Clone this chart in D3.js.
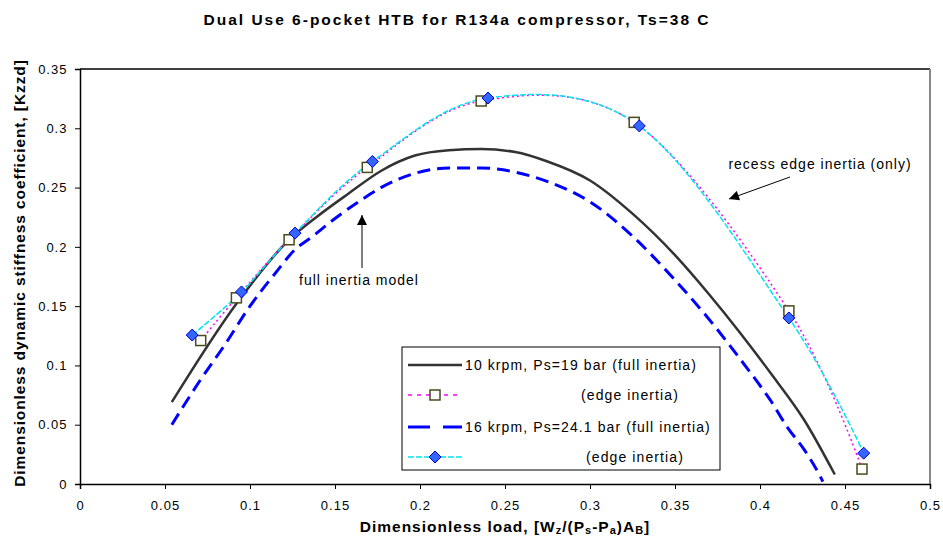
<!DOCTYPE html>
<html><head><meta charset="utf-8">
<script src="https://cdn.jsdelivr.net/npm/d3@7"></script>
<style>
body{margin:0;background:#fff;}
svg{display:block;}
text{font-family:"Liberation Sans",Arial,sans-serif;}
</style></head>
<body>
<svg id="chart" width="943" height="542"></svg>
<script>
// ---- data ----
const xTicks = [0,0.05,0.1,0.15,0.2,0.25,0.3,0.35,0.4,0.45,0.5];
const yTicks = [0,0.05,0.1,0.15,0.2,0.25,0.3,0.35];

// 10 krpm, Ps=19 bar (full inertia)
const full10x = [0.054,0.092,0.123,0.139,0.158,0.177,0.197,0.217,0.236,0.256,0.275,0.3,0.325,0.35,0.37,0.388,0.406,0.426,0.444];
const full10y = [0.069,0.152,0.206,0.225,0.245,0.264,0.277,0.2815,0.2825,0.280,0.272,0.256,0.228,0.193,0.160,0.128,0.094,0.054,0.008];
// 10 krpm edge inertia
const edge10x = [0.071,0.092,0.123,0.169,0.236,0.326,0.417,0.46];
const edge10y = [0.121,0.157,0.206,0.267,0.323,0.305,0.146,0.0126];
// 16 krpm, Ps=24.1 bar (full inertia)
const full16x = [0.054,0.07,0.085,0.1,0.115,0.126,0.137,0.151,0.166,0.177,0.197,0.217,0.236,0.256,0.276,0.3,0.325,0.35,0.37,0.388,0.399,0.406,0.416,0.426,0.435,0.437];
const full16y = [0.050,0.086,0.117,0.150,0.178,0.197,0.209,0.225,0.240,0.250,0.262,0.2665,0.2665,0.263,0.2546,0.238,0.209,0.172,0.139,0.106,0.085,0.071,0.048,0.029,0.0076,0.002];
// 16 krpm edge inertia
const edge16x = [0.066,0.095,0.1265,0.172,0.24,0.329,0.417,0.461];
const edge16y = [0.1256,0.162,0.2116,0.272,0.3255,0.302,0.140,0.026];

const legendLabels = ["10 krpm, Ps=19 bar (full inertia)","(edge inertia)","16 krpm, Ps=24.1 bar (full inertia)","(edge inertia)"];

// ---- chart ----
const svg = d3.select("#chart");
const L=80, R=930, T=69, B=484;
const x = d3.scaleLinear().domain([0,0.5]).range([L,R]);
const y = d3.scaleLinear().domain([0,0.35]).range([B,T]);

// title
svg.append("text").attr("x",457).attr("y",25).attr("text-anchor","middle")
  .attr("font-size",15.5).attr("font-weight","bold").attr("letter-spacing","2")
  .text("Dual Use 6-pocket HTB for R134a compressor, Ts=38 C");

// plot frame (top black, right gray)
svg.append("line").attr("x1",L).attr("x2",R).attr("y1",T).attr("y2",T).attr("stroke","#000").attr("stroke-width",1.5);
svg.append("line").attr("x1",R).attr("x2",R).attr("y1",T).attr("y2",B).attr("stroke","#888").attr("stroke-width",2);

// axes
const fmt = d=>String(+d.toFixed(2));
const xAxis = d3.axisBottom(x).tickValues(xTicks).tickSize(5).tickFormat(fmt);
const yAxis = d3.axisLeft(y).tickValues(yTicks).tickSize(5).tickFormat(fmt);
const gx = svg.append("g").attr("transform",`translate(0,${B})`).call(xAxis);
const gy = svg.append("g").attr("transform",`translate(${L},0)`).call(yAxis);
[gx,gy].forEach(g=>{
  g.select(".domain").attr("stroke","#000").attr("stroke-width",1.5);
  g.selectAll(".tick line").attr("stroke","#000");
  g.selectAll(".tick text").attr("font-size",13).attr("fill","#000").attr("letter-spacing","1");
});
gx.selectAll(".tick text").attr("dy","1.35em");
gy.selectAll(".tick text").attr("dx","-0.35em");

// axis labels
const xl = svg.append("text").attr("x",505).attr("y",532).attr("text-anchor","middle")
  .attr("font-size",15.5).attr("font-weight","bold").attr("letter-spacing","1");
xl.append("tspan").text("Dimensionless load, [W");
xl.append("tspan").attr("font-size",11).attr("dy",2).text("z");
xl.append("tspan").attr("dy",-2).text("/(P");
xl.append("tspan").attr("font-size",11).attr("dy",2).text("s");
xl.append("tspan").attr("dy",-2).text("-P");
xl.append("tspan").attr("font-size",11).attr("dy",2).text("a");
xl.append("tspan").attr("dy",-2).text(")A");
xl.append("tspan").attr("font-size",11).attr("dy",2).text("B");
xl.append("tspan").attr("dy",-2).text("]");

svg.append("text").attr("transform","translate(25,273) rotate(-90)").attr("text-anchor","middle")
  .attr("font-size",15.5).attr("font-weight","bold").attr("letter-spacing","0.9")
  .text("Dimensionless dynamic stiffness coefficient, [Kzzd]");

// lines
const zip = (xs,ys)=>xs.map((v,i)=>[v,ys[i]]);
const lineFull = d3.line().x(d=>x(d[0])).y(d=>y(d[1])).curve(d3.curveMonotoneX);
const lineCard = d3.line().x(d=>x(d[0])).y(d=>y(d[1])).curve(d3.curveCardinal.tension(0));

const styles = [
  {stroke:"#333333", w:2.5, dash:null},
  {stroke:"#ff00ff", w:1.5, dash:"2,3"},
  {stroke:"#0000ff", w:3, dash:"13,7"},
  {stroke:"#00e5ee", w:1.5, dash:"6,2"}
];

svg.append("path").datum(zip(full10x,full10y)).attr("d",lineFull)
  .attr("fill","none").attr("stroke",styles[0].stroke).attr("stroke-width",styles[0].w);
svg.append("path").datum(zip(full16x,full16y)).attr("d",lineFull)
  .attr("fill","none").attr("stroke",styles[2].stroke).attr("stroke-width",styles[2].w).attr("stroke-dasharray",styles[2].dash);
svg.append("path").datum(zip(edge10x,edge10y)).attr("d",lineCard)
  .attr("fill","none").attr("stroke",styles[1].stroke).attr("stroke-width",styles[1].w).attr("stroke-dasharray",styles[1].dash);
svg.append("path").datum(zip(edge16x,edge16y)).attr("d",lineCard)
  .attr("fill","none").attr("stroke",styles[3].stroke).attr("stroke-width",styles[3].w).attr("stroke-dasharray",styles[3].dash);

function square(g,cx,cy){
  g.append("rect").attr("x",cx-5).attr("y",cy-5).attr("width",10).attr("height",10)
    .attr("fill","#fff").attr("stroke","#4a4a1a").attr("stroke-width",1.5);
}
function diamond(g,cx,cy){
  g.append("path").attr("d",`M${cx},${cy-6}L${cx+6},${cy}L${cx},${cy+6}L${cx-6},${cy}Z`)
    .attr("fill","#3366ff").attr("stroke","#0000cc").attr("stroke-width",1);
}
const mk = svg.append("g");
zip(edge10x,edge10y).forEach(d=>square(mk,x(d[0]),y(d[1])));
zip(edge16x,edge16y).forEach(d=>diamond(mk,x(d[0]),y(d[1])));

// annotations
const defs = svg.append("defs");
defs.append("marker").attr("id","ah").attr("viewBox","0 0 10 10").attr("refX",10).attr("refY",5)
  .attr("markerWidth",12).attr("markerHeight",10).attr("markerUnits","userSpaceOnUse").attr("orient","auto")
  .append("path").attr("d","M0,0L10,5L0,10Z").attr("fill","#000");
svg.append("line").attr("x1",362).attr("y1",268).attr("x2",362).attr("y2",215)
  .attr("stroke","#000").attr("stroke-width",1).attr("marker-end","url(#ah)");
svg.append("text").attr("x",359).attr("y",285).attr("text-anchor","middle").attr("font-size",14)
  .attr("letter-spacing","1").text("full inertia model");
svg.append("line").attr("x1",790).attr("y1",177).attr("x2",729).attr("y2",199)
  .attr("stroke","#000").attr("stroke-width",1).attr("marker-end","url(#ah)");
svg.append("text").attr("x",820).attr("y",169).attr("text-anchor","middle").attr("font-size",14)
  .attr("letter-spacing","1").text("recess edge inertia (only)");

// legend
const lg = svg.append("g");
lg.append("rect").attr("x",402).attr("y",347).attr("width",318).attr("height",123)
  .attr("fill","#fff").attr("stroke","#000").attr("stroke-width",1);
const rowsY = [365,395,427,457];
const textX = [465,581,465,586];
legendLabels.forEach((lab,i)=>{
  const s = styles[i];
  lg.append("line").attr("x1",408).attr("x2",462).attr("y1",rowsY[i]).attr("y2",rowsY[i])
    .attr("stroke",s.stroke).attr("stroke-width",s.w).attr("stroke-dasharray",i===2?"22,13":(i===1?"4,5":s.dash));
  if(i===1) square(lg,435,rowsY[i]);
  if(i===3) diamond(lg,435,rowsY[i]);
  lg.append("text").attr("x",textX[i]).attr("y",rowsY[i]+5).attr("font-size",14)
    .attr("letter-spacing","1.1").text(lab);
});
</script>
</body></html>
